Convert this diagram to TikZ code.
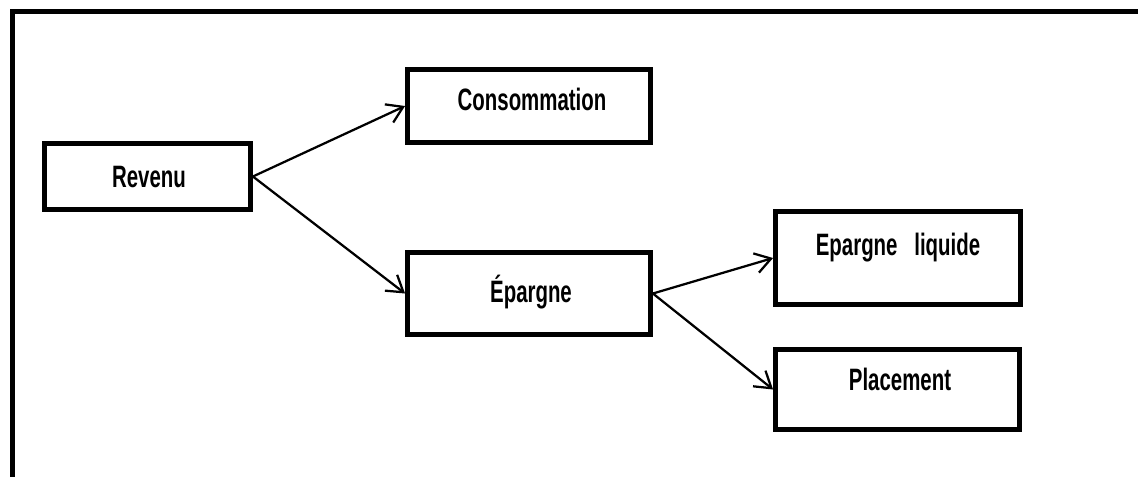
\documentclass[tikz,border=0pt]{standalone}
\usepackage{fontspec}
\setmainfont{Liberation Sans}[FakeStretch=0.66]
\usetikzlibrary{arrows.meta}

\begin{document}
\begin{tikzpicture}[x=0.025cm, y=-0.025cm,
    boite/.style={draw, line width=3.4pt, inner sep=0pt},
    lbl/.style={font=\fontsize{22}{26}\selectfont\bfseries, inner sep=0pt, anchor=base},
    fleche/.style={line width=1.6pt, -{Straight Barb[length=0.39cm, width=0.5cm, line width=1.6pt]}}]
    \useasboundingbox (0,0) rectangle (1138,476);
    \clip (0,0) rectangle (1138,476);

    % Cadre
    \draw[line width=3.4pt] (12.5,11.5) rectangle (1160,500);

    % Les boîtes
    \node[boite, minimum width=5.15cm, minimum height=1.65cm] (rev) at (147.5,176.5) {};
    \node[boite, minimum width=6.075cm, minimum height=1.825cm] (cons) at (529,106) {};
    \node[boite, minimum width=6.075cm, minimum height=2.05cm] (ep) at (529,293.5) {};
    \node[boite, minimum width=6.125cm, minimum height=2.325cm] (epliq) at (898,258) {};
    \node[boite, minimum width=6.1cm, minimum height=2.0cm] (plac) at (897.5,389.5) {};

    % Les textes
    \node[lbl] (trev) at (149,187) {Revenu};
    \node[lbl] (tcons) at (532,110) {Consommation};
    \node[lbl] (tep) at (531,302) {Épargne};
    \node[lbl] (tepliq) at (898,255) {Epargne\hspace{0.42cm}liquide};
    \node[lbl] (tplac) at (900,390) {Placement};

    % Les flèches
    \draw[fleche] (rev.east) -- (cons.west);
    \draw[fleche] (rev.east) -- (ep.west);
    \draw[fleche] (ep.east) -- (epliq.west);
    \draw[fleche] (ep.east) -- (plac.west);
\end{tikzpicture}
\end{document}
